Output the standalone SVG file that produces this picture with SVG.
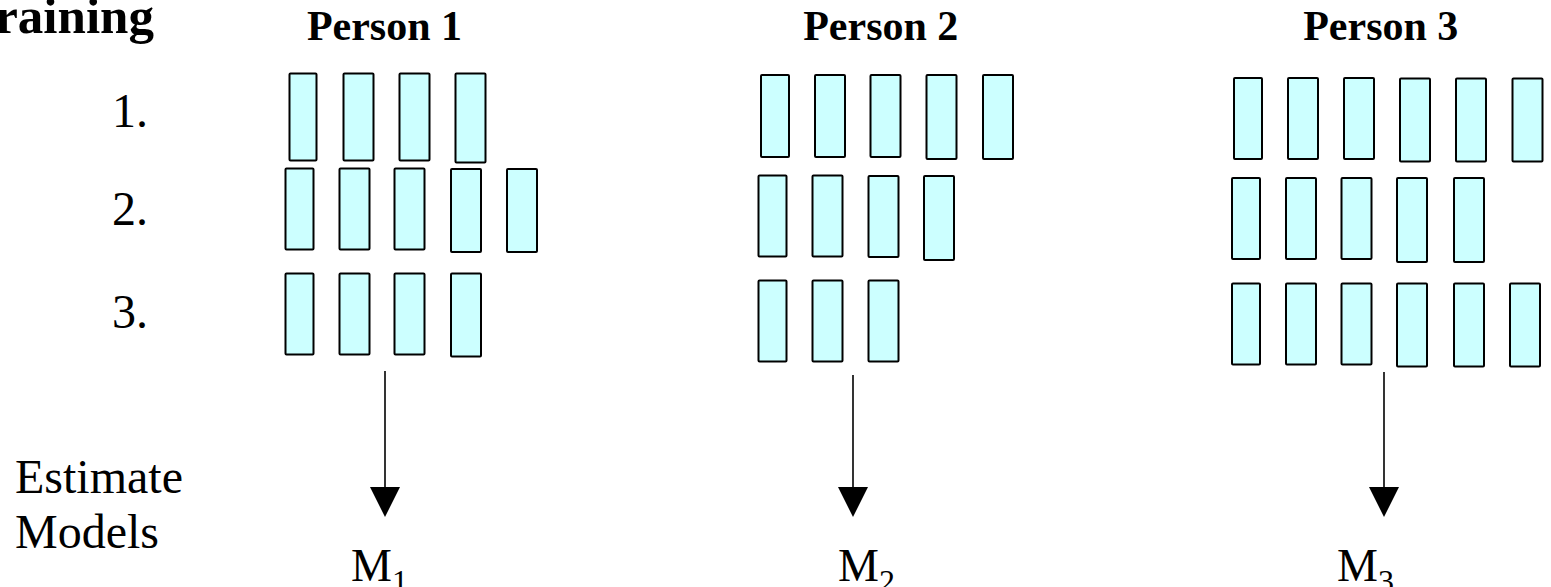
<svg xmlns="http://www.w3.org/2000/svg" width="1551" height="587" viewBox="0 0 1551 587">
  <defs>
    <style>
      .seq { fill: #CCFFFF; stroke: #000; stroke-width: 2; }
      .head { font-family: "Liberation Serif", "Times New Roman", serif; font-weight: bold; fill: #000; }
      .lbl { font-family: "Liberation Serif", "Times New Roman", serif; fill: #000; }
      .link { stroke: #000; stroke-width: 1.6; fill: none; }
      .tip { fill: #000; }
    </style>
  </defs>
  <rect width="1551" height="587" fill="#fff"/>

  <!-- left-hand row labels -->
  <g id="title">
    <text class="head" x="-35" y="33" font-size="51">Training</text>
  </g>
  <g id="row-labels" class="lbl" font-size="48" text-anchor="end">
    <text x="148" y="127">1.</text>
    <text x="148" y="225">2.</text>
    <text x="148" y="328">3.</text>
  </g>
  <g id="estimate-label" class="lbl" font-size="48">
    <text x="15" y="493">Estimate</text>
    <text x="15" y="548">Models</text>
  </g>

  <!-- Person 1 -->
  <g id="person1">
    <text class="head" x="384.5" y="39.5" font-size="42" text-anchor="middle">Person 1</text>
    <rect class="seq" x="289.5" y="73.5" width="27" height="87" rx="1"/>
    <rect class="seq" x="343.5" y="73.5" width="30" height="87" rx="1"/>
    <rect class="seq" x="399.5" y="73.5" width="30" height="87" rx="1"/>
    <rect class="seq" x="455.5" y="73.5" width="30" height="89" rx="1"/>

    <rect class="seq" x="285.5" y="168.5" width="28" height="81" rx="1"/>
    <rect class="seq" x="339.5" y="168.5" width="30" height="81" rx="1"/>
    <rect class="seq" x="394.5" y="168.5" width="30" height="81" rx="1"/>
    <rect class="seq" x="451" y="169" width="30" height="83" rx="1"/>
    <rect class="seq" x="507" y="169" width="30" height="83" rx="1"/>

    <rect class="seq" x="285.5" y="273.5" width="28" height="81" rx="1"/>
    <rect class="seq" x="339.5" y="273.5" width="30" height="81" rx="1"/>
    <rect class="seq" x="394.5" y="273.5" width="30" height="81" rx="1"/>
    <rect class="seq" x="451" y="273.5" width="30" height="83" rx="1"/>
  </g>

  <!-- Person 2 -->
  <g id="person2">
    <text class="head" x="880.8" y="39.5" font-size="42" text-anchor="middle">Person 2</text>
    <rect class="seq" x="761" y="75" width="28" height="82" rx="1"/>
    <rect class="seq" x="815" y="75" width="30" height="82" rx="1"/>
    <rect class="seq" x="870.5" y="75" width="30" height="82" rx="1"/>
    <rect class="seq" x="926.5" y="75" width="30" height="84" rx="1"/>
    <rect class="seq" x="983" y="75" width="30" height="84" rx="1"/>

    <rect class="seq" x="758.5" y="175.5" width="28" height="81" rx="1"/>
    <rect class="seq" x="812.5" y="175.5" width="30" height="81" rx="1"/>
    <rect class="seq" x="868.5" y="176" width="30" height="81" rx="1"/>
    <rect class="seq" x="924" y="176" width="30" height="84" rx="1"/>

    <rect class="seq" x="758.5" y="280.5" width="28" height="81" rx="1"/>
    <rect class="seq" x="812.5" y="280.5" width="30" height="81" rx="1"/>
    <rect class="seq" x="868.5" y="280.5" width="30" height="81" rx="1"/>
  </g>

  <!-- Person 3 -->
  <g id="person3">
    <text class="head" x="1380.8" y="39.5" font-size="42" text-anchor="middle">Person 3</text>
    <rect class="seq" x="1234" y="78" width="28" height="81" rx="1"/>
    <rect class="seq" x="1288" y="78" width="30" height="81" rx="1"/>
    <rect class="seq" x="1344" y="78" width="30" height="81" rx="1"/>
    <rect class="seq" x="1400" y="78.5" width="30" height="83" rx="1"/>
    <rect class="seq" x="1456" y="78.5" width="30" height="83" rx="1"/>
    <rect class="seq" x="1512.5" y="78.5" width="30" height="83" rx="1"/>

    <rect class="seq" x="1232" y="178" width="28" height="81" rx="1"/>
    <rect class="seq" x="1286" y="178" width="30" height="81" rx="1"/>
    <rect class="seq" x="1341.5" y="178" width="30" height="81" rx="1"/>
    <rect class="seq" x="1397" y="178" width="30" height="84" rx="1"/>
    <rect class="seq" x="1454" y="178" width="30" height="84" rx="1"/>

    <rect class="seq" x="1232" y="283.5" width="28" height="81" rx="1"/>
    <rect class="seq" x="1286" y="283.5" width="30" height="81" rx="1"/>
    <rect class="seq" x="1341.5" y="283.5" width="30" height="81" rx="1"/>
    <rect class="seq" x="1397" y="283.5" width="30" height="83" rx="1"/>
    <rect class="seq" x="1454" y="283.5" width="30" height="83" rx="1"/>
    <rect class="seq" x="1510" y="283.5" width="30" height="83" rx="1"/>
  </g>

  <!-- estimated models -->
  <g id="model1" class="lbl">
    <text x="351" y="581" font-size="46">M<tspan font-size="32" dy="11">1</tspan></text>
  </g>
  <g id="model2" class="lbl">
    <text x="838" y="581" font-size="46">M<tspan font-size="32" dy="11">2</tspan></text>
  </g>
  <g id="model3" class="lbl">
    <text x="1337" y="581" font-size="46">M<tspan font-size="32" dy="11">3</tspan></text>
  </g>

  <!-- arrows from each person's data to the model -->
  <g id="connectors">
    <line class="link" x1="385" y1="371" x2="385" y2="490"/>
    <polygon class="tip" points="370,487 400,487 385,517"/>
    <line class="link" x1="853" y1="375" x2="853" y2="490"/>
    <polygon class="tip" points="838,487 868,487 853,517"/>
    <line class="link" x1="1384" y1="372" x2="1384" y2="490"/>
    <polygon class="tip" points="1369,487 1399,487 1384,517"/>
  </g>
</svg>
